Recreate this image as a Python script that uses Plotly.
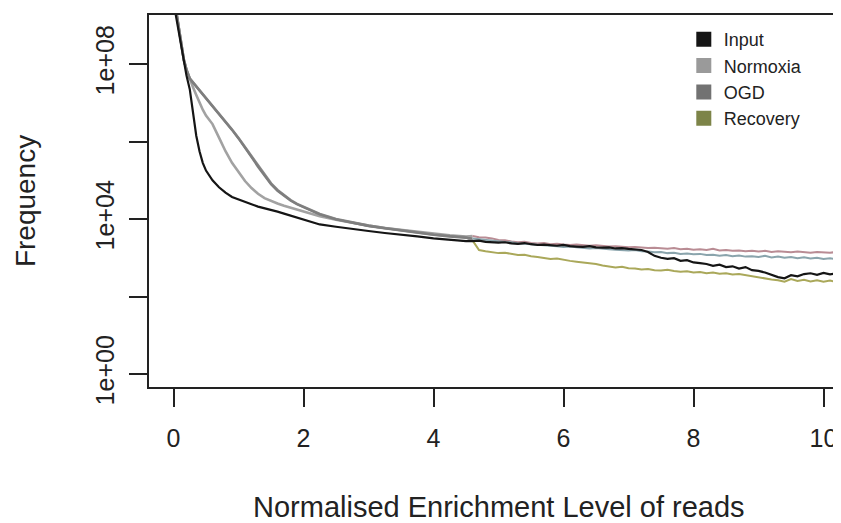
import plotly.graph_objects as go

# shared x grid (normalised enrichment level)
x_vals = [0, 0.04, 0.08, 0.12, 0.16, 0.2, 0.25, 0.3, 0.35, 0.4, 0.45, 0.5, 0.6, 0.7, 0.8, 0.9,
          1.0, 1.1, 1.2, 1.3, 1.4, 1.5, 1.6, 1.7, 1.8, 1.9, 2.0,
          2.25, 2.5, 2.75, 3.0, 3.25, 3.5, 3.75, 4.0, 4.25, 4.5,
          4.6, 4.7, 4.8, 4.9, 5.0, 5.1, 5.2, 5.3, 5.4, 5.5,
          5.6, 5.7, 5.8, 5.9, 6.0, 6.1, 6.2, 6.3, 6.4, 6.5,
          6.6, 6.7, 6.8, 6.9, 7.0, 7.1, 7.2, 7.3, 7.4, 7.5,
          7.6, 7.7, 7.8, 7.9, 8.0, 8.1, 8.2, 8.3, 8.4, 8.5,
          8.6, 8.7, 8.8, 8.9, 9.0, 9.1, 9.2, 9.3, 9.4, 9.5,
          9.6, 9.7, 9.8, 9.9, 10.0, 10.1, 10.2, 10.3, 10.4]

# log10(frequency)
input_log = [9.6, 9.2, 8.85, 8.45, 8.05, 7.7, 7.35, 6.7, 6.15, 5.75, 5.45, 5.25, 5.0, 4.82, 4.68, 4.57,
             4.5, 4.44, 4.38, 4.32, 4.27, 4.23, 4.19, 4.14, 4.09, 4.04, 3.98,
             3.86, 3.8, 3.74, 3.69, 3.64, 3.6, 3.55, 3.5, 3.46, 3.43,
             3.43, 3.44, 3.41, 3.40, 3.39, 3.40, 3.37, 3.36, 3.38, 3.35,
             3.33, 3.34, 3.32, 3.31, 3.33, 3.30, 3.29, 3.28, 3.30, 3.27,
             3.26, 3.27, 3.24, 3.25, 3.23, 3.22, 3.20, 3.15, 3.05, 3.0,
             2.97, 2.99, 2.92, 2.94, 2.88, 2.86, 2.84, 2.79, 2.82, 2.76,
             2.78, 2.72, 2.76, 2.68, 2.66, 2.62, 2.56, 2.5, 2.47, 2.55,
             2.52, 2.58, 2.6, 2.56, 2.61, 2.57, 2.6, 2.58, 2.59]

normoxia_log = [9.8, 9.35, 8.9, 8.45, 8.1, 7.85, 7.6, 7.4, 7.2, 7.0, 6.82, 6.67, 6.45, 6.1, 5.75, 5.45,
                5.2, 4.98, 4.8, 4.65, 4.54, 4.46, 4.4, 4.34, 4.29, 4.24, 4.19,
                4.07, 3.98, 3.9, 3.83, 3.77, 3.72, 3.67, 3.62, 3.58, 3.55,
                3.56, 3.53, 3.52, 3.5, 3.46, 3.45, 3.42, 3.40, 3.41, 3.38,
                3.37, 3.38, 3.35, 3.36, 3.34, 3.33, 3.34, 3.32, 3.31, 3.32,
                3.3, 3.29, 3.3, 3.28, 3.27, 3.28, 3.26, 3.25, 3.26, 3.24,
                3.23, 3.25, 3.22, 3.23, 3.21, 3.22, 3.2, 3.23, 3.19, 3.2,
                3.18, 3.19, 3.17, 3.18, 3.16, 3.18, 3.15, 3.17, 3.16, 3.14,
                3.16, 3.15, 3.13, 3.15, 3.14, 3.13, 3.15, 3.14, 3.13]

ogd_log = [9.8, 9.35, 8.9, 8.45, 8.1, 7.85, 7.62, 7.52, 7.42, 7.32, 7.22, 7.12, 6.92, 6.72, 6.5, 6.3,
           6.08, 5.85, 5.6, 5.35, 5.12, 4.9, 4.73, 4.6, 4.48, 4.38, 4.3,
           4.12, 3.99, 3.9, 3.82, 3.76, 3.7, 3.64, 3.59, 3.55, 3.52,
           3.5, 3.48, 3.46, 3.45, 3.42, 3.41, 3.4, 3.37, 3.36, 3.35,
           3.33, 3.32, 3.31, 3.3, 3.28, 3.29, 3.27, 3.26, 3.24, 3.25,
           3.23, 3.22, 3.21, 3.2, 3.19, 3.2, 3.17, 3.16, 3.14, 3.15,
           3.12, 3.13, 3.1, 3.11, 3.09, 3.1, 3.07, 3.08, 3.05, 3.07,
           3.04, 3.06, 3.03, 3.04, 3.02, 3.05, 3.01, 3.03, 3.0, 3.02,
           2.99, 3.01, 2.98, 3.0, 2.97, 2.99, 2.96, 2.98, 2.97]

recovery_log = [9.8, 9.35, 8.9, 8.45, 8.1, 7.85, 7.63, 7.53, 7.43, 7.33, 7.23, 7.13, 6.93, 6.73, 6.52, 6.31,
                6.09, 5.86, 5.62, 5.37, 5.14, 4.92, 4.75, 4.61, 4.49, 4.39, 4.31,
                4.13, 4.0, 3.91, 3.83, 3.77, 3.71, 3.65, 3.6, 3.56, 3.53,
                3.45, 3.2, 3.17, 3.15, 3.12, 3.13, 3.1, 3.07, 3.08, 3.04,
                3.02, 3.0, 2.97, 2.98, 2.94, 2.92, 2.9, 2.88, 2.86, 2.84,
                2.8, 2.78, 2.75, 2.77, 2.73, 2.72, 2.7, 2.71, 2.68, 2.67,
                2.69, 2.66, 2.64, 2.65, 2.62, 2.63, 2.6, 2.62, 2.59, 2.6,
                2.57, 2.58, 2.55, 2.52, 2.5, 2.47, 2.44, 2.42, 2.38, 2.45,
                2.4, 2.43, 2.39, 2.42, 2.38, 2.41, 2.37, 2.4, 2.39]

series_names = ['Input', 'Normoxia', 'OGD', 'Recovery']
legend_colors = ['#151515', '#9a9a9a', '#727272', '#7d8448']

x_ticks = [0, 2, 4, 6, 8, 10]
y_ticks = [1, 1e2, 1e4, 1e6, 1e8]
y_ticktext = ['1e+00', '', '1e+04', '', '1e+08']

FONT = 'Liberation Sans, Arial, Helvetica, sans-serif'
SPLIT = 37  # index of x = 4.6, where the lines pick up their colour

fig = go.Figure()


def add_line(xs, logs, color, width):
    fig.add_trace(go.Scatter(
        x=xs, y=[10 ** v for v in logs], mode='lines',
        line=dict(color=color, width=width),
        showlegend=False, hoverinfo='skip'
    ))


# grey left part + coloured right part for the three treatments
add_line(x_vals[:SPLIT + 1], normoxia_log[:SPLIT + 1], '#a2a2a2', 2.6)
add_line(x_vals[:SPLIT + 1], recovery_log[:SPLIT + 1], '#8a8a8a', 2.6)
add_line(x_vals[:SPLIT + 1], ogd_log[:SPLIT + 1], '#7e7e7e', 2.4)
add_line(x_vals[SPLIT:], normoxia_log[SPLIT:], '#b98c94', 2.0)
add_line(x_vals[SPLIT:], ogd_log[SPLIT:], '#8aa4ac', 2.0)
add_line(x_vals[SPLIT:], recovery_log[SPLIT:], '#aaa85a', 2.0)
add_line(x_vals, input_log, '#151515', 2.2)

# R-style legend with filled squares
for name, col in zip(series_names, legend_colors):
    fig.add_trace(go.Scatter(
        x=[None], y=[None], mode='markers', name=name,
        marker=dict(symbol='square', size=15, color=col)
    ))

fig.add_annotation(x=0.5, y=-0.323, xref='paper', yref='paper', showarrow=False,
                   xanchor='center', yanchor='middle',
                   text='Normalised Enrichment Level of reads',
                   font=dict(family=FONT, size=29, color='#222'))
fig.add_annotation(x=-0.177, y=0.5, xref='paper', yref='paper', showarrow=False,
                   xanchor='center', yanchor='middle',
                   text='Frequency', textangle=-90,
                   font=dict(family=FONT, size=28, color='#222'))

# the page body adds 8px, so the figure is shifted up/left by that much
fig.update_layout(
    width=841, height=523,
    margin=dict(l=141, r=0, t=7, b=144),
    paper_bgcolor='white', plot_bgcolor='white',
    font=dict(family=FONT, size=25, color='#222'),
    xaxis=dict(range=[-0.377, 10.392], tickvals=x_ticks, ticks='outside', ticklen=18,
               tickwidth=1.5, tickcolor='#222', showgrid=False, zeroline=False,
               showline=True, mirror=True, linecolor='#222', linewidth=1.5,
               ticklabelstandoff=10, automargin=False),
    yaxis=dict(type='log', range=[-0.335, 9.265], tickvals=y_ticks, ticktext=y_ticktext,
               ticks='outside', ticklen=18, tickwidth=1.5, tickcolor='#222',
               tickangle=-90, showgrid=False, zeroline=False, automargin=False,
               showline=True, linecolor='#222', linewidth=1.5, ticklabelstandoff=5),
    legend=dict(x=0.764, y=0.984, xanchor='left', yanchor='top', bgcolor='rgba(0,0,0,0)',
                font=dict(family=FONT, size=18, color='#222'), itemwidth=30),
)

fig.write_html('out.html')
